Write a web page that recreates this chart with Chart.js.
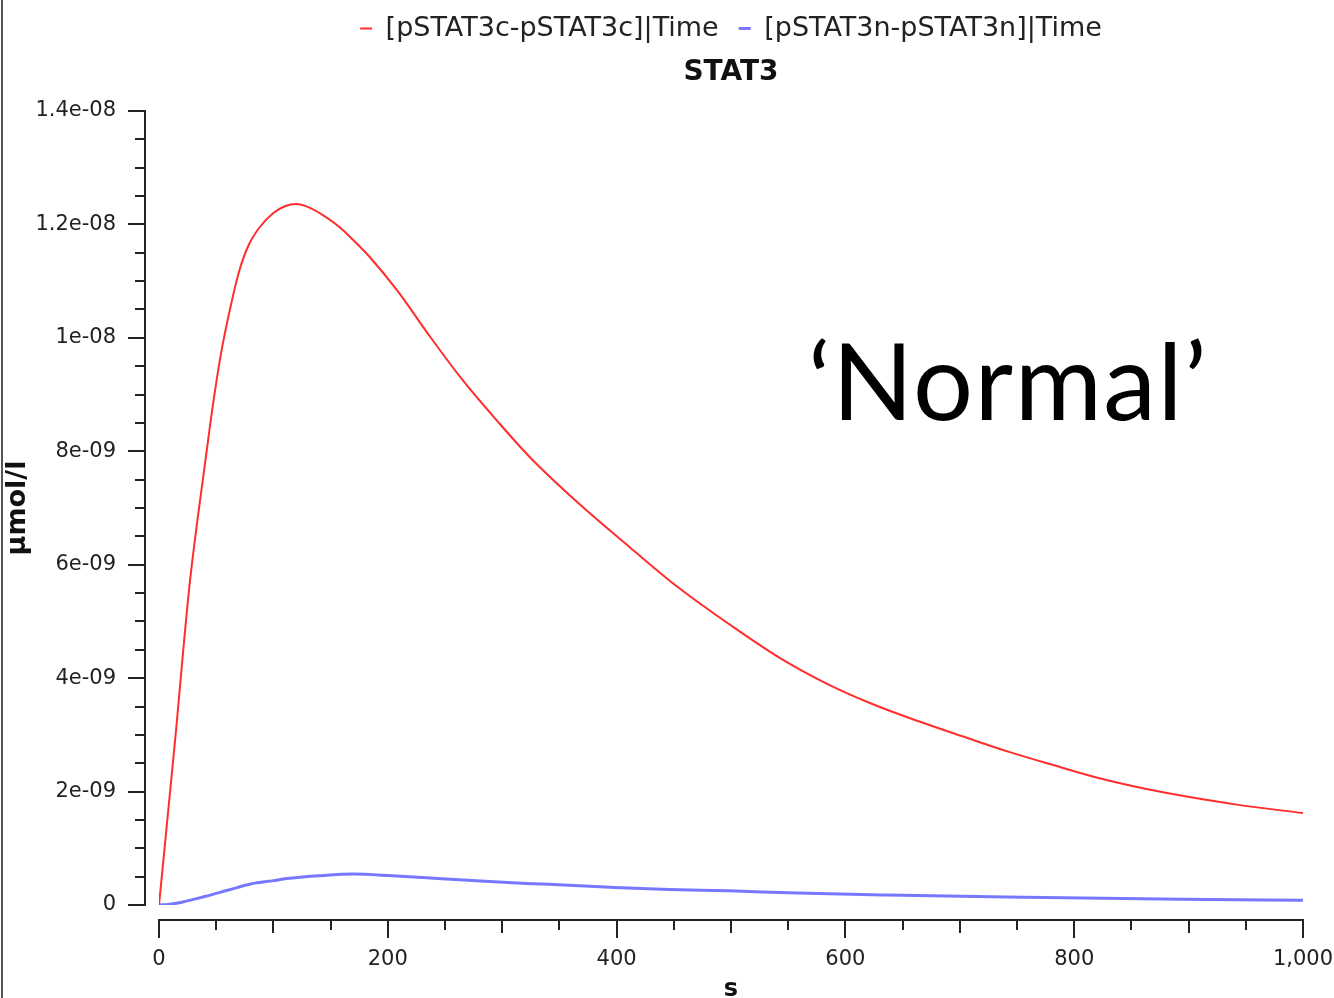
<!DOCTYPE html>
<html>
<head>
<meta charset="utf-8">
<script src="https://cdn.jsdelivr.net/npm/chart.js@4.4.1/dist/chart.umd.min.js"></script>
<style>
  html, body { margin: 0; padding: 0; background: #fff; overflow: hidden; }
  #wrap { position: relative; width: 1334px; height: 998px; }
  #edge { position: absolute; left: 1px; top: 0; width: 2px; height: 998px; background: #555; }
</style>
</head>
<body>
<div id="wrap">
  <canvas id="c" width="1334" height="998"></canvas>
  <div id="edge"></div>
</div>
<script>
// ---- data ----
const redTimes  = [0, 8, 15, 21, 27, 34, 40, 47, 54, 62, 70, 78, 88, 100, 110, 120, 130, 146, 158, 170, 184, 208, 237, 266, 295, 324, 368, 412, 452, 505, 544, 584, 624, 664, 703, 743, 783, 823, 862, 902, 942, 1000];
const redValues = [0, 1.65e-9, 3.1e-9, 4.45e-9, 5.7e-9, 6.85e-9, 7.75e-9, 8.8e-9, 9.7e-9, 10.5e-9, 11.17e-9, 11.62e-9, 11.95e-9, 12.2e-9, 12.32e-9, 12.36e-9, 12.31e-9, 12.13e-9, 11.95e-9, 11.72e-9, 11.43e-9, 10.84e-9, 10.02e-9, 9.24e-9, 8.55e-9, 7.9e-9, 7.06e-9, 6.3e-9, 5.63e-9, 4.86e-9, 4.34e-9, 3.9e-9, 3.54e-9, 3.24e-9, 2.97e-9, 2.7e-9, 2.46e-9, 2.23e-9, 2.05e-9, 1.9e-9, 1.77e-9, 1.62e-9];
const blueTimes  = [0, 8, 20, 40, 60, 80, 100, 114, 140, 170, 204, 247, 285, 321, 358, 398, 446, 498, 558, 637, 740, 893, 1000];
const blueValues = [0, 0.01e-9, 0.05e-9, 0.15e-9, 0.26e-9, 0.37e-9, 0.43e-9, 0.47e-9, 0.515e-9, 0.545e-9, 0.515e-9, 0.465e-9, 0.42e-9, 0.38e-9, 0.35e-9, 0.31e-9, 0.275e-9, 0.25e-9, 0.21e-9, 0.175e-9, 0.14e-9, 0.10e-9, 0.085e-9];
const seriesLabels = ['[pSTAT3c-pSTAT3c]|Time', '[pSTAT3n-pSTAT3n]|Time'];
const yTickLabels = ['0', '2e-09', '4e-09', '6e-09', '8e-09', '1e-08', '1.2e-08', '1.4e-08'];
const xTickLabels = ['0', '200', '400', '600', '800', '1,000'];
const chartTitle = 'STAT3';
const xTitle = 's';
const yTitle = 'µmol/l';
const annotation = '‘Normal’';
const xMin = 0, xMax = 1000, xStep = 200, xMinorStep = 50;
const yMin = 0, yMax = 1.4e-8, yStep = 2e-9, yMinorStep = 5e-10;

const toPoints = (ts, vs) => ts.map((t, i) => ({ x: t, y: vs[i] }));
const FONT = "'DejaVu Sans', 'Liberation Sans', sans-serif";

const offsetAxes = {
  id: 'offsetAxes',
  afterDraw(chart) {
    const { ctx, scales: { x, y } } = chart;
    const axisY = y.getPixelForValue(yMin) + 15;   // horizontal axis line position
    const axisX = x.getPixelForValue(xMin) - 14;   // vertical axis line position
    ctx.save();
    ctx.strokeStyle = '#222';
    ctx.lineWidth = 2;
    ctx.lineCap = 'butt';
    ctx.beginPath();
    // y axis
    ctx.moveTo(axisX, y.getPixelForValue(yMax) - 1);
    ctx.lineTo(axisX, y.getPixelForValue(yMin) + 1);
    const nY = Math.round((yMax - yMin) / yMinorStep);
    const perMajorY = Math.round(yStep / yMinorStep);
    for (let k = 0; k <= nY; k++) {
      const py = Math.round(y.getPixelForValue(yMin + k * yMinorStep));
      const len = (k % perMajorY === 0) ? 17 : 10;
      ctx.moveTo(axisX, py);
      ctx.lineTo(axisX - len, py);
    }
    // x axis
    ctx.moveTo(x.getPixelForValue(xMin) - 1, axisY);
    ctx.lineTo(x.getPixelForValue(xMax) + 1, axisY);
    const nX = Math.round((xMax - xMin) / xMinorStep);
    const perMajorX = Math.round(xStep / xMinorStep);
    for (let k = 0; k <= nX; k++) {
      const px = Math.round(x.getPixelForValue(xMin + k * xMinorStep));
      const len = (k % perMajorX === 0) ? 18 : (k % 2 === 0 ? 13 : 10);
      ctx.moveTo(px, axisY);
      ctx.lineTo(px, axisY + len);
    }
    ctx.stroke();
    // annotation text
    ctx.fillStyle = '#000';
    ctx.font = "106px Lato, 'Open Sans', sans-serif";
    try { ctx.letterSpacing = '1.5px'; } catch (e) {}
    ctx.textAlign = 'left';
    ctx.textBaseline = 'alphabetic';
    ctx.fillText(annotation, 808, 420);
    ctx.restore();
  }
};

new Chart(document.getElementById('c'), {
  type: 'line',
  data: {
    datasets: [
      {
        label: seriesLabels[0],
        data: toPoints(redTimes, redValues),
        borderColor: '#ff2e2e',
        backgroundColor: '#ff2e2e',
        borderWidth: 2,
        pointRadius: 0,
        cubicInterpolationMode: 'monotone',
        fill: false
      },
      {
        label: seriesLabels[1],
        data: toPoints(blueTimes, blueValues),
        borderColor: 'rgba(95,95,255,0.85)',
        backgroundColor: 'rgba(95,95,255,0.85)',
        borderWidth: 3,
        pointRadius: 0,
        cubicInterpolationMode: 'monotone',
        fill: false
      }
    ]
  },
  options: {
    responsive: false,
    animation: false,
    events: [],
    layout: { padding: { top: -5, left: 0, right: 31, bottom: 0 } },
    scales: {
      x: {
        type: 'linear',
        min: xMin, max: xMax,
        grid: { display: false, drawTicks: false },
        border: { display: false },
        ticks: {
          stepSize: xStep,
          padding: 42,
          color: '#222',
          font: { family: FONT, size: 21 },
          maxRotation: 0,
          callback: (v, i) => xTickLabels[i]
        },
        title: {
          display: true, text: xTitle, color: '#111',
          font: { family: FONT, size: 24, weight: 'bold', lineHeight: 0.68 },
          padding: 0
        },
        afterFit: (s) => { s.height = 93; s.paddingLeft = 0; s.paddingRight = 0; }
      },
      y: {
        type: 'linear',
        min: yMin, max: yMax,
        grid: { display: false, drawTicks: false },
        border: { display: false },
        ticks: {
          stepSize: yStep,
          padding: 43,
          color: '#222',
          font: { family: FONT, size: 21 },
          callback: (v, i) => yTickLabels[i]
        },
        title: {
          display: true, text: yTitle, color: '#111',
          font: { family: FONT, size: 27, weight: 'bold', lineHeight: 1.2 },
          padding: { top: 2, bottom: 0 }
        },
        afterFit: (s) => { s.width = 159; s.paddingTop = 0; s.paddingBottom = 0; }
      }
    },
    plugins: {
      legend: {
        display: true,
        position: 'top',
        fullSize: false,
        weight: 3000,
        labels: {
          usePointStyle: true,
          pointStyle: 'line',
          pointStyleWidth: 12,
          padding: 20,
          color: '#222',
          font: { family: FONT, size: 27 }
        }
      },
      title: {
        display: true,
        text: chartTitle,
        position: 'top',
        fullSize: false,
        color: '#111',
        font: { family: FONT, size: 28, weight: 'bold', lineHeight: 1.2 },
        padding: { top: 4.2, bottom: 21.2 }
      },
      tooltip: { enabled: false }
    }
  },
  plugins: [offsetAxes]
});
</script>
</body>
</html>
